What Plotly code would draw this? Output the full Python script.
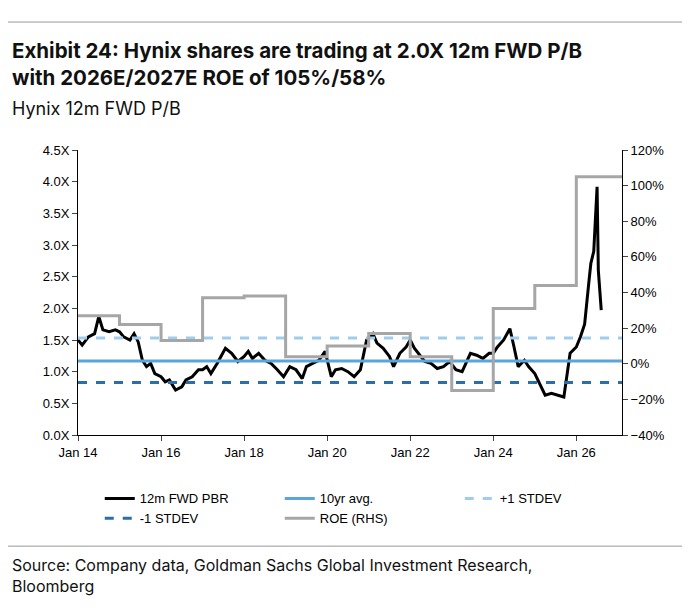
import plotly.graph_objects as go

pbr_t = [2014.0,2014.1,2014.25,2014.4,2014.5,2014.6,2014.75,2014.9,2015.0,2015.1,2015.25,2015.35,2015.45,2015.55,2015.65,2015.75,2015.85,2016.0,2016.1,2016.2,2016.35,2016.5,2016.6,2016.75,2016.9,2017.0,2017.1,2017.2,2017.35,2017.45,2017.55,2017.7,2017.85,2018.0,2018.1,2018.2,2018.35,2018.5,2018.65,2018.8,2018.95,2019.1,2019.25,2019.4,2019.5,2019.65,2019.8,2019.95,2020.1,2020.2,2020.35,2020.5,2020.65,2020.8,2020.95,2021.1,2021.2,2021.35,2021.5,2021.6,2021.75,2021.9,2022.0,2022.1,2022.2,2022.35,2022.5,2022.65,2022.8,2022.95,2023.1,2023.25,2023.45,2023.6,2023.75,2023.9,2024.0,2024.1,2024.25,2024.4,2024.5,2024.6,2024.75,2024.85,2025.0,2025.15,2025.25,2025.4,2025.55,2025.7,2025.85,2026.0,2026.1,2026.2,2026.3,2026.35,2026.42,2026.5,2026.53,2026.57,2026.6]
pbr_v = [1.50,1.42,1.55,1.60,1.87,1.66,1.63,1.66,1.63,1.55,1.50,1.60,1.47,1.18,1.08,1.13,0.97,0.92,0.84,0.87,0.71,0.76,0.87,0.92,1.03,1.03,1.08,0.97,1.13,1.24,1.37,1.29,1.16,1.24,1.32,1.21,1.29,1.18,1.13,1.03,0.92,1.08,1.03,0.89,1.08,1.13,1.18,1.32,0.92,1.03,1.05,1.00,0.92,1.03,1.50,1.60,1.45,1.37,1.24,1.08,1.29,1.39,1.50,1.37,1.29,1.16,1.13,1.05,1.08,1.16,1.03,1.00,1.29,1.26,1.21,1.29,1.29,1.39,1.50,1.68,1.39,1.08,1.18,1.08,0.97,0.76,0.63,0.66,0.63,0.60,1.29,1.39,1.55,1.75,2.4,2.71,2.9,3.92,2.6,2.29,1.97]

roe_t = [2014.0,2015.0,2016.0,2017.0,2018.0,2019.0,2020.0,2021.0,2022.0,2023.0,2024.0,2025.0,2026.0,2027.1]
roe_v = [27,22,13,37,38,4,10,17,4,-15,31,44,105,105]

avg, up, dn = 1.17, 1.53, 0.83
tickvals = list(range(2014, 2027, 2))
ticktext = ["Jan %02d" % (y % 100) for y in tickvals]

fig = go.Figure()
fig.add_trace(go.Scatter(x=pbr_t, y=pbr_v, name="12m FWD PBR", mode="lines", line=dict(color="black", width=3)))
fig.add_trace(go.Scatter(x=[2014, 2027.1], y=[avg, avg], name="10yr avg.", mode="lines", line=dict(color="#5aa6dc", width=3)))
fig.add_trace(go.Scatter(x=[2014, 2027.1], y=[up, up], name="+1 STDEV", mode="lines", line=dict(color="#9fcdee", width=3, dash="dash")))
fig.add_trace(go.Scatter(x=[2014, 2027.1], y=[dn, dn], name="-1 STDEV", mode="lines", line=dict(color="#2a6fa8", width=3, dash="dash")))
fig.add_trace(go.Scatter(x=roe_t, y=roe_v, name="ROE (RHS)", mode="lines", line=dict(color="#a6a6a6", width=3, shape="hv"), yaxis="y2"))

tf = dict(family="Liberation Sans, Arial", size=13, color="black")
fig.update_layout(
    width=690, height=608, plot_bgcolor="white", paper_bgcolor="white",
    margin=dict(l=70, r=76, t=142, b=181),
    showlegend=True,
    legend=dict(orientation="h", x=0.04, y=-0.17, xanchor="left", yanchor="top", font=tf, entrywidth=135, tracegroupgap=0),
    xaxis=dict(range=[2014, 2027.1], tickvals=tickvals, ticktext=ticktext, showgrid=False, showline=True, linecolor="black", ticks="outside", ticklen=5, tickfont=tf),
    yaxis=dict(range=[0, 4.5], dtick=0.5, tickformat=".1f", ticksuffix="X", showgrid=False, showline=True, linecolor="black", ticks="outside", ticklen=5, tickfont=tf, zeroline=False),
    yaxis2=dict(range=[-40, 120], dtick=20, ticksuffix="%", overlaying="y", side="right", showgrid=False, showline=True, linecolor="black", ticks="outside", ticklen=5, tickfont=tf, zeroline=False),
    shapes=[dict(type="line", xref="paper", yref="paper", x0=-0.13, x1=1.15, y0=1.449, y1=1.449, line=dict(color="#999", width=1)),
            dict(type="line", xref="paper", yref="paper", x0=-0.13, x1=1.15, y0=-0.39, y1=-0.39, line=dict(color="#999", width=1))],
    annotations=[
        dict(xref="paper", yref="paper", x=-0.125, y=1.40, xanchor="left", yanchor="top", align="left", showarrow=False,
             text="<b>Exhibit 24: Hynix shares are trading at 2.0X 12m FWD P/B<br>with 2026E/2027E ROE of 105%/58%</b>",
             font=dict(family="Inter, Open Sans", size=20.5, color="#111")),
        dict(xref="paper", yref="paper", x=-0.125, y=1.19, xanchor="left", yanchor="top", showarrow=False,
             text="Hynix 12m FWD P/B", font=dict(family="Inter, Open Sans", size=18, color="#111")),
        dict(xref="paper", yref="paper", x=-0.125, y=-0.415, xanchor="left", yanchor="top", align="left", showarrow=False,
             text="Source: Company data, Goldman Sachs Global Investment Research,<br>Bloomberg", font=dict(family="Inter, Open Sans", size=16, color="#111")),
    ],
)
fig.write_html("out.html")
